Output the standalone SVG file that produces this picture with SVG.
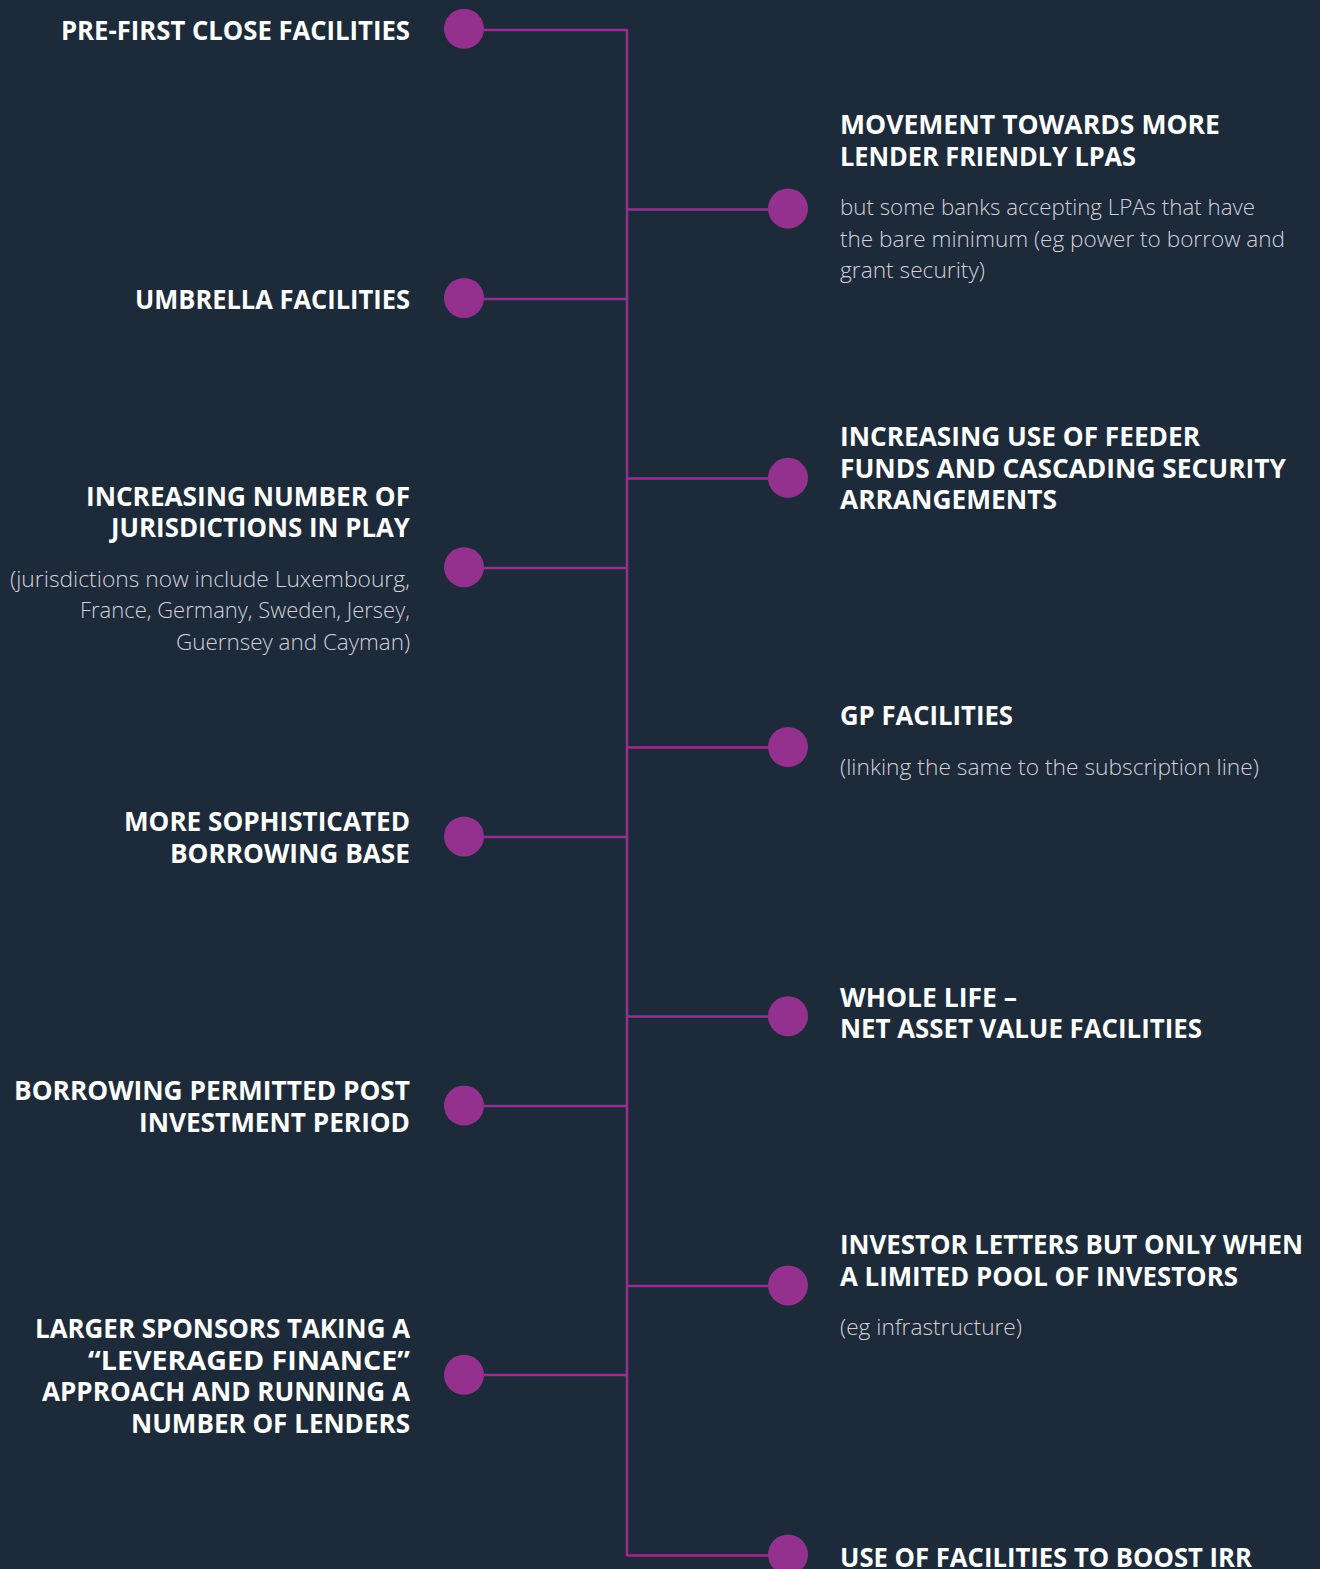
<svg xmlns="http://www.w3.org/2000/svg" width="1320" height="1569" viewBox="0 0 1320 1569">
<style>
.t{font-family:"Open Sans","Liberation Sans",sans-serif;font-weight:700;font-size:27px;fill:#ffffff}
.b{font-family:"Open Sans","Liberation Sans",sans-serif;font-weight:300;font-size:22px;fill:#d4d0da}
.l{text-anchor:end}
.dot{fill:#94318e}
.c{stroke:#94318e;stroke-width:2.5;fill:none}
</style>
<rect width="1320" height="1569" fill="#1c2a3a"/>
<g id="connectors">
<path class="c" d="M627 29V1556"/>
<path class="c" d="M484 30H627"/>
<path class="c" d="M484 299H627"/>
<path class="c" d="M484 568H627"/>
<path class="c" d="M484 837H627"/>
<path class="c" d="M484 1106H627"/>
<path class="c" d="M484 1375H627"/>
<path class="c" d="M627 209.5H768"/>
<path class="c" d="M627 478.5H768"/>
<path class="c" d="M627 747.5H768"/>
<path class="c" d="M627 1016.5H768"/>
<path class="c" d="M627 1286H768"/>
<path class="c" d="M627 1555.5H768"/>
</g>
<g id="n-pre-first">
<circle class="dot" cx="464" cy="28.8" r="20"/>
<text class="t l" x="410" y="40" textLength="349" lengthAdjust="spacingAndGlyphs">PRE-FIRST CLOSE FACILITIES</text>
</g>
<g id="n-umbrella">
<circle class="dot" cx="464" cy="298" r="20"/>
<text class="t l" x="410" y="309" textLength="275" lengthAdjust="spacingAndGlyphs">UMBRELLA FACILITIES</text>
</g>
<g id="n-jurisdictions">
<circle class="dot" cx="464" cy="567.2" r="20"/>
<text class="t l" x="410" y="505.7" textLength="324" lengthAdjust="spacingAndGlyphs">INCREASING NUMBER OF</text>
<text class="t l" x="410" y="537.4" textLength="299" lengthAdjust="spacingAndGlyphs">JURISDICTIONS IN PLAY</text>
<text class="b l" x="410" y="586.5" textLength="400" lengthAdjust="spacingAndGlyphs">(jurisdictions now include Luxembourg,</text>
<text class="b l" x="410" y="618.2" textLength="330" lengthAdjust="spacingAndGlyphs">France, Germany, Sweden, Jersey,</text>
<text class="b l" x="410" y="649.9" textLength="234" lengthAdjust="spacingAndGlyphs">Guernsey and Cayman)</text>
</g>
<g id="n-borrowing-base">
<circle class="dot" cx="464" cy="836.4" r="20"/>
<text class="t l" x="410" y="831" textLength="286" lengthAdjust="spacingAndGlyphs">MORE SOPHISTICATED</text>
<text class="t l" x="410" y="862.7" textLength="240" lengthAdjust="spacingAndGlyphs">BORROWING BASE</text>
</g>
<g id="n-post-investment">
<circle class="dot" cx="464" cy="1105.6" r="20"/>
<text class="t l" x="410" y="1100" textLength="396" lengthAdjust="spacingAndGlyphs">BORROWING PERMITTED POST</text>
<text class="t l" x="410" y="1131.7" textLength="271" lengthAdjust="spacingAndGlyphs">INVESTMENT PERIOD</text>
</g>
<g id="n-larger-sponsors">
<circle class="dot" cx="464" cy="1374.8" r="20"/>
<text class="t l" x="410" y="1338" textLength="375" lengthAdjust="spacingAndGlyphs">LARGER SPONSORS TAKING A</text>
<text class="t l" x="410" y="1369.7" textLength="322" lengthAdjust="spacingAndGlyphs">“LEVERAGED FINANCE”</text>
<text class="t l" x="410" y="1401.4" textLength="368" lengthAdjust="spacingAndGlyphs">APPROACH AND RUNNING A</text>
<text class="t l" x="410" y="1433.1" textLength="279" lengthAdjust="spacingAndGlyphs">NUMBER OF LENDERS</text>
</g>
<g id="n-lender-friendly">
<circle class="dot" cx="788" cy="208.6" r="20"/>
<text class="t" x="840" y="134.3" textLength="380" lengthAdjust="spacingAndGlyphs">MOVEMENT TOWARDS MORE</text>
<text class="t" x="840" y="166" textLength="296" lengthAdjust="spacingAndGlyphs">LENDER FRIENDLY LPAS</text>
<text class="b" x="840" y="215" textLength="415" lengthAdjust="spacingAndGlyphs">but some banks accepting LPAs that have</text>
<text class="b" x="840" y="246.7" textLength="445" lengthAdjust="spacingAndGlyphs">the bare minimum (eg power to borrow and</text>
<text class="b" x="840" y="278.4" textLength="145" lengthAdjust="spacingAndGlyphs">grant security)</text>
</g>
<g id="n-feeder-funds">
<circle class="dot" cx="788" cy="477.8" r="20"/>
<text class="t" x="840" y="446" textLength="360" lengthAdjust="spacingAndGlyphs">INCREASING USE OF FEEDER</text>
<text class="t" x="840" y="477.7" textLength="446" lengthAdjust="spacingAndGlyphs">FUNDS AND CASCADING SECURITY</text>
<text class="t" x="840" y="509.4" textLength="217" lengthAdjust="spacingAndGlyphs">ARRANGEMENTS</text>
</g>
<g id="n-gp-facilities">
<circle class="dot" cx="788" cy="747" r="20"/>
<text class="t" x="840" y="725" textLength="173" lengthAdjust="spacingAndGlyphs">GP FACILITIES</text>
<text class="b" x="840" y="775" textLength="419" lengthAdjust="spacingAndGlyphs">(linking the same to the subscription line)</text>
</g>
<g id="n-nav">
<circle class="dot" cx="788" cy="1016.2" r="20"/>
<text class="t" x="840" y="1006.7" textLength="177" lengthAdjust="spacingAndGlyphs">WHOLE LIFE –</text>
<text class="t" x="840" y="1038.4" textLength="362" lengthAdjust="spacingAndGlyphs">NET ASSET VALUE FACILITIES</text>
</g>
<g id="n-investor-letters">
<circle class="dot" cx="788" cy="1285.4" r="20"/>
<text class="t" x="840" y="1254.3" textLength="463" lengthAdjust="spacingAndGlyphs">INVESTOR LETTERS BUT ONLY WHEN</text>
<text class="t" x="840" y="1286" textLength="398" lengthAdjust="spacingAndGlyphs">A LIMITED POOL OF INVESTORS</text>
<text class="b" x="840" y="1335" textLength="182" lengthAdjust="spacingAndGlyphs">(eg infrastructure)</text>
</g>
<g id="n-boost-irr">
<circle class="dot" cx="788" cy="1554.6" r="20"/>
<text class="t" x="840" y="1567" textLength="412" lengthAdjust="spacingAndGlyphs">USE OF FACILITIES TO BOOST IRR</text>
</g>
</svg>
